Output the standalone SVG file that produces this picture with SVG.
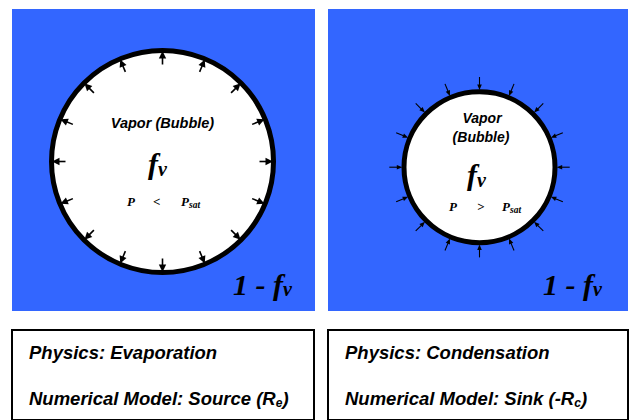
<svg xmlns="http://www.w3.org/2000/svg" xmlns:xlink="http://www.w3.org/1999/xlink" width="630" height="420" viewBox="0 0 630 420">
<style>
.panel{fill:#3366ff}
.bubble{fill:#ffffff;stroke:#000000;stroke-width:5}
.box{fill:#ffffff;stroke:#000000;stroke-width:2}
.sans{font-family:"Liberation Sans",Arial,sans-serif;font-weight:bold;font-style:italic;fill:#000}
.serif{font-family:"Liberation Serif","Times New Roman",serif;font-weight:bold;font-style:italic;fill:#000}
.arrL{stroke:#000;stroke-width:1.6;fill:none}
.arrR{stroke:#000;stroke-width:1.1;fill:none}
.head{fill:#000;stroke:none}
</style>
<defs>
<g id="arrowOut">
<line class="arrL" x1="162.5" y1="64.5" x2="162.5" y2="57"/>
<polygon class="head" points="162.5,51 158.8,58.5 166.2,58.5"/>
</g>
<g id="arrowIn">
<line class="arrR" x1="479.5" y1="77" x2="479.5" y2="85"/>
<polygon class="head" points="479.5,90 477.2,84.5 481.8,84.5"/>
</g>
</defs>

<g id="panel-evaporation">
<rect class="panel" x="12" y="9" width="303" height="302"/>
<circle class="bubble" cx="162.5" cy="161.5" r="111"/>
<g id="arrows-out">
<use xlink:href="#arrowOut"/>
<use xlink:href="#arrowOut" transform="rotate(22.5 162.5 161.5)"/>
<use xlink:href="#arrowOut" transform="rotate(45 162.5 161.5)"/>
<use xlink:href="#arrowOut" transform="rotate(67.5 162.5 161.5)"/>
<use xlink:href="#arrowOut" transform="rotate(90 162.5 161.5)"/>
<use xlink:href="#arrowOut" transform="rotate(112.5 162.5 161.5)"/>
<use xlink:href="#arrowOut" transform="rotate(135 162.5 161.5)"/>
<use xlink:href="#arrowOut" transform="rotate(157.5 162.5 161.5)"/>
<use xlink:href="#arrowOut" transform="rotate(180 162.5 161.5)"/>
<use xlink:href="#arrowOut" transform="rotate(202.5 162.5 161.5)"/>
<use xlink:href="#arrowOut" transform="rotate(225 162.5 161.5)"/>
<use xlink:href="#arrowOut" transform="rotate(247.5 162.5 161.5)"/>
<use xlink:href="#arrowOut" transform="rotate(270 162.5 161.5)"/>
<use xlink:href="#arrowOut" transform="rotate(292.5 162.5 161.5)"/>
<use xlink:href="#arrowOut" transform="rotate(315 162.5 161.5)"/>
<use xlink:href="#arrowOut" transform="rotate(337.5 162.5 161.5)"/>
</g>
<text class="sans" x="162.5" y="128" font-size="14.5" text-anchor="middle">Vapor (Bubble)</text>
<text class="serif" x="148" y="174" font-size="30">f<tspan font-size="20" dy="2">v</tspan></text>
<text class="serif" x="127" y="206" font-size="13">P</text>
<text class="serif" x="153" y="206" font-size="13">&lt;</text>
<text class="serif" x="181" y="206" font-size="13">P<tspan font-size="9.5" dy="2">sat</tspan></text>
<text class="serif" x="233" y="295" font-size="30">1 - f<tspan font-size="20" dy="1">v</tspan></text>
</g>

<g id="panel-condensation">
<rect class="panel" x="328" y="9" width="300" height="302"/>
<circle class="bubble" cx="479.5" cy="167.2" r="75.5"/>
<g id="arrows-in">
<use xlink:href="#arrowIn"/>
<use xlink:href="#arrowIn" transform="rotate(22.5 479.5 167.2)"/>
<use xlink:href="#arrowIn" transform="rotate(45 479.5 167.2)"/>
<use xlink:href="#arrowIn" transform="rotate(67.5 479.5 167.2)"/>
<use xlink:href="#arrowIn" transform="rotate(90 479.5 167.2)"/>
<use xlink:href="#arrowIn" transform="rotate(112.5 479.5 167.2)"/>
<use xlink:href="#arrowIn" transform="rotate(135 479.5 167.2)"/>
<use xlink:href="#arrowIn" transform="rotate(157.5 479.5 167.2)"/>
<use xlink:href="#arrowIn" transform="rotate(180 479.5 167.2)"/>
<use xlink:href="#arrowIn" transform="rotate(202.5 479.5 167.2)"/>
<use xlink:href="#arrowIn" transform="rotate(225 479.5 167.2)"/>
<use xlink:href="#arrowIn" transform="rotate(247.5 479.5 167.2)"/>
<use xlink:href="#arrowIn" transform="rotate(270 479.5 167.2)"/>
<use xlink:href="#arrowIn" transform="rotate(292.5 479.5 167.2)"/>
<use xlink:href="#arrowIn" transform="rotate(315 479.5 167.2)"/>
<use xlink:href="#arrowIn" transform="rotate(337.5 479.5 167.2)"/>
</g>
<text class="sans" x="482" y="123" font-size="14" text-anchor="middle">Vapor</text>
<text class="sans" x="481" y="142" font-size="14" text-anchor="middle">(Bubble)</text>
<text class="serif" x="467" y="185" font-size="30">f<tspan font-size="20" dy="2">v</tspan></text>
<text class="serif" x="449" y="211" font-size="13">P</text>
<text class="serif" x="477" y="211" font-size="13">&gt;</text>
<text class="serif" x="502" y="211" font-size="13">P<tspan font-size="9.5" dy="2">sat</tspan></text>
<text class="serif" x="543" y="295" font-size="30">1 - f<tspan font-size="20" dy="1">v</tspan></text>
</g>

<g id="box-evaporation">
<rect class="box" x="12" y="330" width="302" height="90"/>
<text class="sans" x="29" y="359" font-size="18.5">Physics: Evaporation</text>
<text class="sans" x="29" y="405" font-size="18.5">Numerical Model: Source (R<tspan font-size="12" dy="2">e</tspan><tspan dy="-2">)</tspan></text>
</g>

<g id="box-condensation">
<rect class="box" x="328" y="330" width="300" height="90"/>
<text class="sans" x="345" y="359" font-size="18.5">Physics: Condensation</text>
<text class="sans" x="345" y="405" font-size="18.5">Numerical Model: Sink (-R<tspan font-size="12" dy="2">c</tspan><tspan dy="-2">)</tspan></text>
</g>
</svg>
